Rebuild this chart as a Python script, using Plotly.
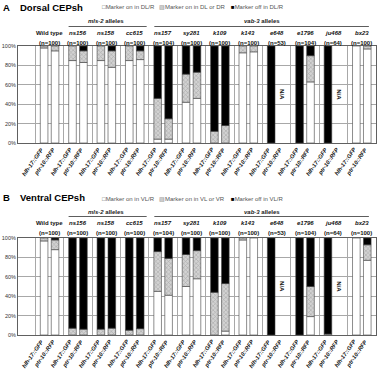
import plotly.graph_objects as go

groups = ["Wild type", "ns156", "ns158", "cc615", "ns157", "sy281",
          "k109", "k143", "e648", "e1796", "ju468", "bx23"]
n_labels = ["(n=100)", "(n=100)", "(n=100)", "(n=100)", "(n=104)", "(n=100)",
            "(n=100)", "(n=100)", "(n=53)", "(n=104)", "(n=64)", "(n=100)"]
markers = ["hlh-17::GFP", "ptr-10::RFP"]
y_ticks = [0, 20, 40, 60, 80, 100]
y_ticktext = ["0%", "20%", "40%", "60%", "80%", "100%"]

# Panel A - Dorsal CEPsh (percent of animals)
a_hlh_on = [98, 85, 85, 85, 4, 42, 0, 93, 0, 0, 0, 100]
a_hlh_one = [2, 15, 15, 15, 42, 29, 12, 7, 0, 0, 0, 0]
a_hlh_off = [0, 0, 0, 0, 54, 29, 88, 0, 100, 100, 100, 0]
a_ptr_on = [95, 83, 78, 86, 4, 46, 0, 94, None, 63, None, 97]
a_ptr_one = [5, 12, 17, 9, 21, 27, 18, 6, None, 27, None, 3]
a_ptr_off = [0, 5, 5, 5, 75, 27, 82, 0, None, 10, None, 0]

# Panel B - Ventral CEPsh
b_hlh_on = [97, 0, 0, 0, 45, 50, 0, 98, 0, 0, 0, 100]
b_hlh_one = [3, 7, 6, 5, 41, 33, 44, 2, 0, 0, 1, 0]
b_hlh_off = [0, 93, 94, 95, 14, 17, 56, 0, 100, 100, 99, 0]
b_ptr_on = [88, 0, 0, 0, 41, 58, 4, 100, None, 19, None, 77]
b_ptr_one = [10, 6, 7, 6.5, 38, 29, 49, 0, None, 31, None, 16]
b_ptr_off = [2, 94, 93, 93.5, 21, 13, 47, 0, None, 50, None, 7]

na_groups = ["e648", "ju468"]

W, H = 383, 370
PX0, PX1 = 18, 376
BARGAP, BARGROUPGAP = 0.229, 0.304
cat_px = (PX1 - PX0) / len(groups)
slot_half = cat_px * (1 - BARGAP) / 4.0

FONT = "Liberation Sans, Arial, sans-serif"
WHITE, BLACK = "#ffffff", "#000000"
GRAY_BG, GRAY_FG = "#d2d2d2", "#808080"
OUTLINE = "#404040"
GRID = "#a8a8a8"


def py(px):
    return 1 - px / H


def nz(v):
    return [x if x else None for x in v]


def stack(on, one, off):
    base1 = [a if a is not None else None for a in on]
    base2 = [(a + b) if a is not None else None for a, b in zip(on, one)]
    return [(on, [0] * len(on), WHITE, False),
            (one, base1, GRAY_BG, True),
            (off, base2, BLACK, False)]


fig = go.Figure()

panels = [
    ("x", "y", [(a_hlh_on, a_hlh_one, a_hlh_off), (a_ptr_on, a_ptr_one, a_ptr_off)]),
    ("x2", "y2", [(b_hlh_on, b_hlh_one, b_hlh_off), (b_ptr_on, b_ptr_one, b_ptr_off)]),
]
for xa, ya, series in panels:
    for mi, (on, one, off) in enumerate(series):
        for vals, base, color, patt in stack(on, one, off):
            base_clean = [b if b is not None else 0 for b in base]
            fig.add_trace(go.Bar(
                x=groups, y=nz(vals), base=base_clean, xaxis=xa, yaxis=ya,
                offsetgroup=str(mi), showlegend=False, hoverinfo="skip",
                marker=dict(color=color, line=dict(color=OUTLINE, width=0.6),
                            pattern=dict(shape="x", fgcolor=GRAY_FG, bgcolor=GRAY_BG,
                                         size=3, solidity=0.35) if patt else None),
            ))

# geometry of the two panels (pixels from top)
pA = dict(top=46, bot=143, title=7, hdr=21.5, line=26.5, name=32.5, n=42.5, leg=7)
pB = dict(top=238, bot=335, title=197, hdr=211.5, line=216.5, name=223, n=232.5, leg=199)

axis_common = dict(showline=True, linecolor="#606060", linewidth=1, mirror=True,
                   zeroline=False)
fig.update_layout(
    width=W, height=H, margin=dict(l=0, r=0, t=0, b=0),
    paper_bgcolor="white", plot_bgcolor="white",
    barmode="group", bargap=BARGAP, bargroupgap=BARGROUPGAP,
    font=dict(family=FONT, size=6, color="#222"),
    xaxis=dict(domain=[PX0 / W, PX1 / W], anchor="y", type="category",
               showticklabels=False, showgrid=True, tickson="boundaries",
               gridcolor=GRID, ticks="", **axis_common),
    xaxis2=dict(domain=[PX0 / W, PX1 / W], anchor="y2", type="category",
                showticklabels=False, showgrid=True, tickson="boundaries",
                gridcolor=GRID, ticks="", **axis_common),
    yaxis=dict(domain=[py(pA["bot"]), py(pA["top"])], anchor="x", range=[0, 100],
               tickvals=y_ticks, ticktext=y_ticktext, gridcolor=GRID,
               tickfont=dict(size=5.5, color="#333"), ticks="", automargin=False,
               **axis_common),
    yaxis2=dict(domain=[py(pB["bot"]), py(pB["top"])], anchor="x2", range=[0, 100],
                tickvals=y_ticks, ticktext=y_ticktext, gridcolor=GRID,
                tickfont=dict(size=5.5, color="#333"), ticks="", automargin=False,
                **axis_common),
)

ann = []
shapes = []
legend_texts = {
    "A": ["Marker on in DL/R", "Marker on in DL or DR", "Marker off in DL/R"],
    "B": ["Marker on in VL/R", "Marker on in VL or VR", "Marker off in VL/R"],
}
titles = {"A": "Dorsal CEPsh", "B": "Ventral CEPsh"}
legend_x = [100, 157, 229]
glyphs = ['<span style="color:#555">□</span>', '<span style="color:#888">▨</span>',
          '<span style="color:#000">■</span>']

for key, p, xa, ya in [("A", pA, "x", "y"), ("B", pB, "x2", "y2")]:
    ann.append(dict(text="<b>%s</b>" % key, x=1 / W, y=py(p["title"]), xref="paper",
                    yref="paper", xanchor="left", yanchor="middle", showarrow=False,
                    font=dict(size=9.5, color="#000")))
    ann.append(dict(text="<b>%s</b>" % titles[key], x=18 / W, y=py(p["title"]),
                    xref="paper", yref="paper", xanchor="left", yanchor="middle",
                    showarrow=False, font=dict(size=9.5, color="#000")))
    for lx, g, t in zip(legend_x, glyphs, legend_texts[key]):
        ann.append(dict(text=g + t, x=lx / W, y=py(p["leg"]), xref="paper",
                        yref="paper", xanchor="left", yanchor="middle", showarrow=False,
                        font=dict(size=6, color="#555")))
    # allele family headers
    for label, i0, i1, s0, s1 in [("<i>mls-2</i> alleles", 1, 3, -0.33, 0.42),
                                  ("<i>vab-3</i> alleles", 4, 11, -0.31, 0.25)]:
        ann.append(dict(text="<b>%s</b>" % label, x=(i0 + i1) / 2, y=py(p["hdr"]),
                        xref=xa, yref="paper", xanchor="center", yanchor="middle",
                        showarrow=False, font=dict(size=6, color="#222")))
        shapes.append(dict(type="line", xref=xa, yref="paper", x0=groups[i0],
                           x1=groups[i1], x0shift=s0, x1shift=s1,
                           y0=py(p["line"]), y1=py(p["line"]),
                           line=dict(color="#333", width=0.8)))
    for i, (g, n) in enumerate(zip(groups, n_labels)):
        name = "<b>%s</b>" % g if i == 0 else "<b><i>%s</i></b>" % g
        ann.append(dict(text=name, x=g, y=py(p["name"]), xref=xa, yref="paper",
                        xanchor="center", yanchor="middle", showarrow=False,
                        font=dict(size=6, color="#111")))
        ann.append(dict(text="<b>%s</b>" % n, x=g, y=py(p["n"]), xref=xa, yref="paper",
                        xanchor="center", yanchor="middle", showarrow=False,
                        font=dict(size=6, color="#111")))
        for mi, m in enumerate(markers):
            shift = (-1 if mi == 0 else 1) * slot_half
            ann.append(dict(text="<b><i>%s</i></b>" % m, x=g, y=0, xref=xa, yref=ya,
                            xanchor="right", yanchor="top", xshift=shift + 3, yshift=-1,
                            textangle=-55, showarrow=False,
                            font=dict(size=5.7, color="#111")))
    for g in na_groups:
        ann.append(dict(text="<b>N/A</b>", x=g, y=50, xref=xa, yref=ya,
                        xshift=slot_half, textangle=90, showarrow=False,
                        font=dict(size=6, color="#111")))

fig.update_layout(annotations=ann, shapes=shapes)
fig.write_html("out.html")
